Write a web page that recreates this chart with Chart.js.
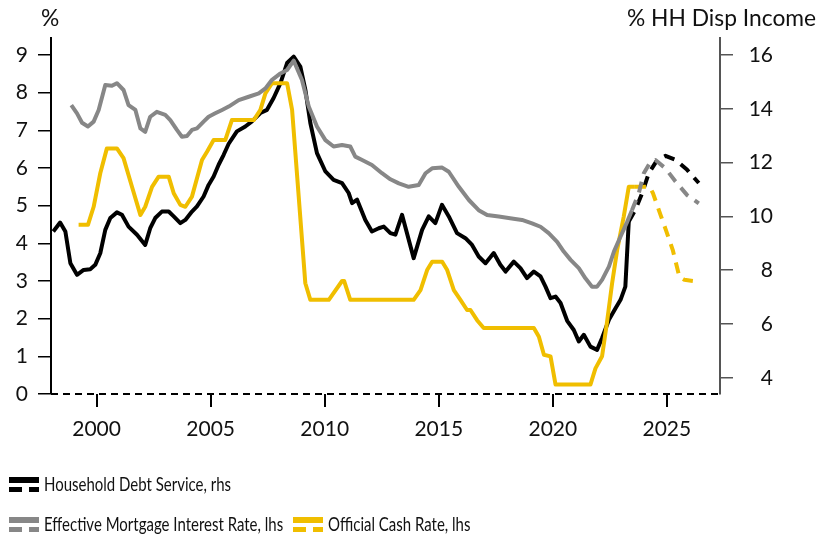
<!DOCTYPE html>
<html>
<head>
<meta charset="utf-8">
<script src="https://cdn.jsdelivr.net/npm/chart.js@4.4.1/dist/chart.umd.min.js"></script>
<style>
  body { margin: 0; background: #fff; font-family: Lato, sans-serif; }
  #wrap { position: relative; width: 820px; height: 541px; }
  #chart { position: absolute; left: 0; top: 0; }
  .lbl { position: absolute; font-size: 22.8px; color: #111; white-space: nowrap; }
  .txt { position: absolute; font-size: 18.5px; line-height: 20px; color: #111; white-space: nowrap;
         transform: scaleX(0.81); transform-origin: left top; }
  .sw { position: absolute; }
</style>
</head>
<body>
<div id="wrap">
  <canvas id="chart" width="820" height="541"></canvas>
  <div class="lbl" style="left:41px; top:3px;">%</div>
  <div class="lbl" style="left:627px; top:3px;">% HH Disp Income</div>
  <div id="legend"></div>
</div>
<script>
// household debt service, % of disposable income (rhs)
const debtYears = [1998.1, 1998.4, 1998.63, 1998.85, 1999.14, 1999.43, 1999.72, 1999.94, 2000.16, 2000.38,
  2000.6, 2000.89, 2001.11, 2001.4, 2001.77, 2002.13, 2002.35, 2002.57, 2002.86, 2003.16,
  2003.38, 2003.67, 2003.89, 2004.18, 2004.4, 2004.69, 2004.91, 2005.13, 2005.35, 2005.57,
  2005.79, 2006.15, 2006.52, 2006.81, 2007.18, 2007.47, 2007.76, 2008.06, 2008.35, 2008.64,
  2008.93, 2009.15, 2009.37, 2009.66, 2010.03, 2010.39, 2010.76, 2011.05, 2011.2, 2011.42,
  2011.78, 2012.07, 2012.37, 2012.59, 2012.88, 2013.1, 2013.39, 2013.9, 2014.27, 2014.56,
  2014.85, 2015.14, 2015.44, 2015.8, 2016.17, 2016.46, 2016.75, 2017.05, 2017.41, 2017.7,
  2017.93, 2018.29, 2018.58, 2018.87, 2019.17, 2019.46, 2019.68, 2019.9, 2020.12, 2020.34,
  2020.63, 2020.92, 2021.14, 2021.36, 2021.65, 2021.94, 2022.16, 2022.46, 2022.75, 2022.97,
  2023.18, 2023.33];
const debtValues = [9.44, 9.77, 9.44, 8.26, 7.83, 8.01, 8.04, 8.2, 8.63, 9.5,
  9.94, 10.15, 10.06, 9.62, 9.32, 8.94, 9.56, 9.94, 10.18, 10.18,
  10.0, 9.75, 9.87, 10.18, 10.37, 10.74, 11.17, 11.48, 11.92, 12.29,
  12.7, 13.16, 13.34, 13.53, 13.84, 13.96, 14.4, 14.95, 15.7, 15.94,
  15.57, 14.71, 13.47, 12.35, 11.67, 11.36, 11.24, 10.87, 10.49, 10.62,
  9.87, 9.44, 9.56, 9.62, 9.38, 9.32, 10.06, 8.45, 9.5, 10.0,
  9.75, 10.43, 10.0, 9.38, 9.19, 8.94, 8.51, 8.26, 8.64, 8.2,
  7.95, 8.32, 8.08, 7.71, 7.95, 7.77, 7.39, 6.96, 7.02, 6.78,
  6.12, 5.78, 5.35, 5.6, 5.16, 5.04, 5.48, 6.16, 6.59, 6.9,
  7.39, 9.81];
const debtFcYears = [2023.33, 2023.62, 2023.92, 2024.21, 2024.58, 2024.94, 2025.38, 2025.89, 2026.4];
const debtFcValues = [9.81, 10.25, 10.87, 11.61, 12.1, 12.25, 12.1, 11.73, 11.24];

// effective mortgage interest rate (lhs)
const mortYears = [1998.89, 1999.14, 1999.36, 1999.62, 1999.87, 2000.09, 2000.38, 2000.67, 2000.89, 2001.18,
  2001.4, 2001.7, 2001.92, 2002.13, 2002.35, 2002.64, 2003.01, 2003.23, 2003.52, 2003.74,
  2003.96, 2004.18, 2004.4, 2004.69, 2004.91, 2005.2, 2005.5, 2005.79, 2006.23, 2006.67,
  2007.11, 2007.4, 2007.69, 2008.06, 2008.35, 2008.64, 2009.0, 2009.3, 2009.66, 2010.03,
  2010.39, 2010.76, 2011.12, 2011.34, 2011.64, 2012.07, 2012.51, 2012.88, 2013.25, 2013.68,
  2014.12, 2014.42, 2014.71, 2015.15, 2015.44, 2015.88, 2016.32, 2016.75, 2017.12, 2017.63,
  2018.2, 2018.65, 2019.09, 2019.46, 2019.82, 2020.19, 2020.48, 2020.78, 2021.14, 2021.43,
  2021.72, 2021.94, 2022.16, 2022.46, 2022.68, 2022.97, 2023.26, 2023.47];
const mortValues = [7.67, 7.45, 7.2, 7.1, 7.23, 7.54, 8.2, 8.18, 8.25, 8.07,
  7.67, 7.54, 7.05, 6.96, 7.36, 7.49, 7.41, 7.27, 7.01, 6.83,
  6.85, 7.01, 7.05, 7.23, 7.36, 7.45, 7.54, 7.63, 7.8, 7.89,
  7.98, 8.11, 8.34, 8.51, 8.6, 8.85, 8.34, 7.63, 7.1, 6.74,
  6.57, 6.61, 6.57, 6.3, 6.21, 6.08, 5.86, 5.7, 5.59, 5.5,
  5.55, 5.86, 5.99, 6.01, 5.9, 5.5, 5.15, 4.88, 4.75, 4.71,
  4.66, 4.62, 4.53, 4.44, 4.27, 4.04, 3.78, 3.56, 3.34, 3.07,
  2.85, 2.85, 3.03, 3.38, 3.78, 4.18, 4.57, 4.88];
const mortFcYears = [2023.47, 2023.77, 2023.99, 2024.28, 2024.5, 2024.94, 2025.38, 2025.89, 2026.4];
const mortFcValues = [4.88, 5.33, 5.86, 6.16, 6.21, 5.99, 5.64, 5.28, 5.06];

// official cash rate (lhs)
const ocrYears = [1999.21, 1999.62, 1999.87, 2000.16, 2000.45, 2000.89, 2001.18, 2001.55, 2001.92, 2002.13,
  2002.43, 2002.72, 2003.16, 2003.38, 2003.67, 2003.89, 2004.18, 2004.62, 2004.84, 2005.13,
  2005.64, 2005.93, 2006.89, 2007.18, 2007.4, 2007.69, 2008.35, 2008.57, 2009.15, 2009.37,
  2010.18, 2010.76, 2010.85, 2011.12, 2013.9, 2014.2, 2014.49, 2014.71, 2015.15, 2015.37,
  2015.66, 2015.95, 2016.24, 2016.39, 2016.68, 2016.97, 2019.17, 2019.39, 2019.61, 2019.9,
  2020.12, 2021.65, 2021.87, 2022.16, 2022.37, 2022.6, 2022.82, 2023.11, 2023.33, 2023.6];
const ocrValues = [4.49, 4.49, 4.97, 5.86, 6.52, 6.52, 6.26, 5.5, 4.75, 4.97,
  5.5, 5.77, 5.77, 5.33, 5.02, 4.97, 5.24, 6.21, 6.43, 6.74,
  6.74, 7.27, 7.27, 7.54, 7.98, 8.25, 8.25, 7.54, 2.94, 2.5,
  2.5, 3.0, 3.0, 2.5, 2.5, 2.76, 3.29, 3.51, 3.51, 3.29,
  2.76, 2.5, 2.23, 2.23, 1.96, 1.75, 1.75, 1.52, 1.04, 1.0,
  0.25, 0.25, 0.68, 1.0, 1.88, 2.94, 3.82, 4.71, 5.5, 5.5];
const ocrFcYears = [2023.6, 2024.25, 2024.39, 2024.75, 2024.96, 2025.26, 2025.55, 2025.77, 2026.14];
const ocrFcValues = [5.5, 5.5, 5.33, 4.71, 4.35, 3.82, 3.11, 3.03, 3.0];

const xTicks = [2000, 2005, 2010, 2015, 2020, 2025];
const leftTicks = [0, 1, 2, 3, 4, 5, 6, 7, 8, 9];
const rightTicks = [4, 6, 8, 10, 12, 14, 16];

const BLACK = '#000000';
const GREY = '#878787';
const GOLD = '#f0be00';

// legend entries: label, colour, swatch left, row top
const legendItems = [
  ['Household Debt Service, rhs', BLACK, 9, 477],
  ['Effective Mortgage Interest Rate, lhs', GREY, 9, 517],
  ['Official Cash Rate, lhs', GOLD, 293, 517]
];

const legendEl = document.getElementById('legend');
legendItems.forEach(([label, color, left, top]) => {
  const sw = document.createElement('div');
  sw.className = 'sw';
  sw.style.left = left + 'px';
  sw.style.top = top + 'px';
  sw.innerHTML = `
    <div style="position:absolute;left:0;top:0;width:30px;height:6px;background:${color}"></div>
    <div style="position:absolute;left:0;top:10px;width:13px;height:5px;background:${color}"></div>
    <div style="position:absolute;left:20px;top:10px;width:10px;height:5px;background:${color}"></div>`;
  legendEl.appendChild(sw);
  const t = document.createElement('div');
  t.className = 'txt';
  t.style.left = (left + 35) + 'px';
  t.style.top = (top - 3) + 'px';
  t.textContent = label;
  legendEl.appendChild(t);
});

function pts(xs, ys) {
  return xs.map((x, i) => ({ x: x, y: ys[i] }));
}

function line(data, color, axis, dashed) {
  return {
    data: data,
    yAxisID: axis,
    borderColor: color,
    borderWidth: 4,
    borderDash: dashed ? [11, 8] : [],
    borderJoinStyle: 'round',
    borderCapStyle: 'butt',
    pointRadius: 0,
    tension: 0,
    fill: false
  };
}

// dashed line along zero of the left axis
const zeroLine = {
  id: 'zeroLine',
  afterDatasetsDraw(chart) {
    const ctx = chart.ctx;
    const y = chart.scales.y.getPixelForValue(0);
    const area = chart.chartArea;
    ctx.save();
    ctx.strokeStyle = '#000';
    ctx.lineWidth = 2;
    ctx.setLineDash([7, 5]);
    ctx.beginPath();
    ctx.moveTo(area.left, y);
    ctx.lineTo(area.right, y);
    ctx.stroke();
    ctx.restore();
  }
};

const tickFont = { family: 'Lato', size: 21 };

new Chart(document.getElementById('chart'), {
  type: 'line',
  data: {
    datasets: [
      line(pts(mortYears, mortValues), GREY, 'y', false),
      line(pts(mortFcYears, mortFcValues), GREY, 'y', true),
      line(pts(ocrYears, ocrValues), GOLD, 'y', false),
      line(pts(ocrFcYears, ocrFcValues), GOLD, 'y', true),
      line(pts(debtYears, debtValues), BLACK, 'y2', false),
      line(pts(debtFcYears, debtFcValues), BLACK, 'y2', true)
    ]
  },
  options: {
    responsive: false,
    animation: false,
    layout: { padding: { top: 38, bottom: 87, left: 0, right: 47 } },
    plugins: { legend: { display: false }, tooltip: { enabled: false } },
    scales: {
      x: {
        type: 'linear',
        min: 1998.0,
        max: 2027.33,
        afterBuildTicks: s => { s.ticks = xTicks.map(v => ({ value: v })); },
        afterFit: s => { s.height = 60; },
        border: { display: false },
        grid: { drawOnChartArea: false, drawTicks: true, tickLength: 13, color: '#000', lineWidth: 2 },
        ticks: { font: tickFont, color: '#111', padding: 10, maxRotation: 0, callback: v => String(v) }
      },
      y: {
        position: 'left',
        min: 0,
        max: 9.45,
        afterBuildTicks: s => { s.ticks = leftTicks.map(v => ({ value: v })); },
        afterFit: s => { s.width = 51; },
        border: { display: true, color: '#000', width: 2 },
        grid: { drawOnChartArea: false, tickLength: 13, color: '#000', lineWidth: 1.5 },
        ticks: { font: tickFont, color: '#111', padding: 10 }
      },
      y2: {
        position: 'right',
        min: 3.4,
        max: 16.63,
        afterBuildTicks: s => { s.ticks = rightTicks.map(v => ({ value: v })); },
        afterFit: s => { s.width = 53; },
        border: { display: true, color: '#555', width: 2 },
        grid: { drawOnChartArea: false, tickLength: 13, color: '#555', lineWidth: 1.5 },
        ticks: { font: tickFont, color: '#111', padding: 0, crossAlign: 'far' }
      }
    }
  },
  plugins: [zeroLine]
});
</script>
</body>
</html>
